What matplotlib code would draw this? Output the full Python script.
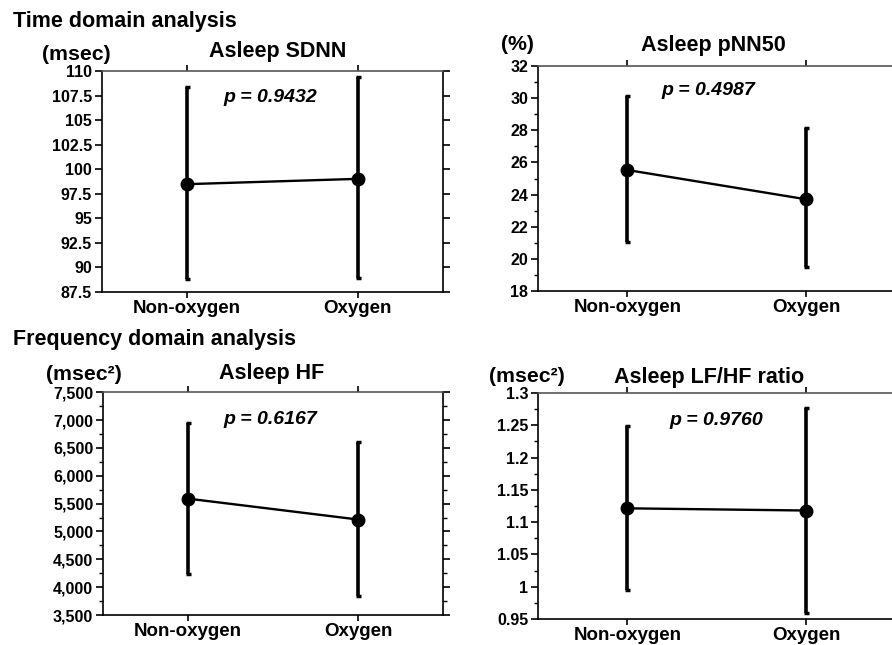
import numpy as np
import matplotlib.pyplot as plt
from matplotlib.ticker import MultipleLocator, FuncFormatter

plt.rcParams['font.family'] = ['Liberation Sans', 'DejaVu Sans']
plt.rcParams['font.weight'] = 'bold'

groups = ['Non-oxygen', 'Oxygen']

sdnn_mean = [98.48, 99.02]
sdnn_low = [88.85, 88.95]
sdnn_high = [108.34, 109.36]

pnn50_mean = [25.53, 23.70]
pnn50_low = [21.02, 19.46]
pnn50_high = [30.17, 28.15]

hf_mean = [5590, 5215]
hf_low = [4240, 3850]
hf_high = [6945, 6615]

lfhf_mean = [1.1214, 1.1180]
lfhf_low = [0.9954, 0.9598]
lfhf_high = [1.2494, 1.2773]

W, H = 892, 645
fig = plt.figure(figsize=(W / 100, H / 100), dpi=100)


def px(x, y):
    return x / W, 1 - y / H


def panel(rect, mean, low, high, ylim, major, minor, fmt, title, unit, ptxt,
          title_xy, unit_xy, p_xy):
    ax = fig.add_axes(rect)
    x = np.arange(len(groups))
    mean = np.array(mean)
    yerr = [mean - np.array(low), np.array(high) - mean]
    ax.errorbar(x, mean, yerr=yerr, fmt='none', ecolor='black', elinewidth=2.6,
                capsize=1.8, capthick=2.5, zorder=2)
    ax.plot(x, mean, color='black', lw=1.7, marker='o', markersize=9,
            markerfacecolor='black', markeredgecolor='black', zorder=3)
    ax.set_xlim(-0.5, 1.5)
    ax.set_ylim(*ylim)
    ax.set_xticks(x)
    ax.set_xticklabels(groups, fontsize=13.5, fontweight='bold')
    ax.yaxis.set_major_locator(MultipleLocator(major))
    if minor:
        ax.yaxis.set_minor_locator(MultipleLocator(minor))
    ax.yaxis.set_major_formatter(FuncFormatter(fmt))
    ax.tick_params(axis='y', which='major', direction='out', length=5, width=1.2,
                   labelsize=11.5, pad=2, right=True)
    ax.tick_params(axis='y', which='minor', direction='out', length=3, width=1.0,
                   right=True)
    ax.tick_params(axis='x', direction='out', length=4, width=1.2, pad=2, top=True)
    for lab in ax.get_yticklabels():
        lab.set_fontweight('bold')
    for s in ['left', 'bottom', 'right']:
        ax.spines[s].set_linewidth(1.2)
        ax.spines[s].set_color('black')
    ax.spines['top'].set_linewidth(1.2)
    ax.spines['top'].set_color('#555555')
    ax.text(p_xy[0], p_xy[1], ptxt, transform=ax.transAxes, ha='center',
            va='center', fontsize=14, fontweight='bold', style='italic')
    fig.text(*px(*title_xy), title, ha='center', va='center', fontsize=15.5,
             fontweight='bold')
    fig.text(*px(*unit_xy), unit, ha='left', va='center', fontsize=15.3,
             fontweight='bold')
    return ax


def gfmt(v, pos):
    return '%g' % v


def comma(v, pos):
    return '{:,.0f}'.format(v)


panel([0.1143, 0.5473, 0.3823, 0.3426], sdnn_mean, sdnn_low, sdnn_high,
      (87.5, 110), 2.5, None, gfmt, 'Asleep SDNN', '(msec)', 'p = 0.9432',
      (278, 52), (42, 55), (0.494, 0.878))
panel([0.6031, 0.5493, 0.4013, 0.3479], pnn50_mean, pnn50_low, pnn50_high,
      (18, 32), 2, 1, gfmt, 'Asleep pNN50', '(%)', 'p = 0.4987',
      (713, 45), (501, 45), (0.475, 0.894))
panel([0.1155, 0.0465, 0.3812, 0.3453], hf_mean, hf_low, hf_high,
      (3500, 7500), 500, 250, comma, 'Asleep HF', '(msec²)', 'p = 0.6167',
      (272, 374), (46, 375), (0.491, 0.88))
panel([0.6031, 0.0403, 0.4013, 0.3504], lfhf_mean, lfhf_low, lfhf_high,
      (0.95, 1.3), 0.05, 0.025, gfmt, 'Asleep LF/HF ratio', '(msec²)', 'p = 0.9760',
      (709, 378), (489, 377), (0.497, 0.877))

fig.text(*px(13, 22), 'Time domain analysis', ha='left', va='center',
         fontsize=15.5, fontweight='bold')
fig.text(*px(13, 339), 'Frequency domain analysis', ha='left', va='center',
         fontsize=15.5, fontweight='bold')

fig.savefig('out.png', dpi=100)
